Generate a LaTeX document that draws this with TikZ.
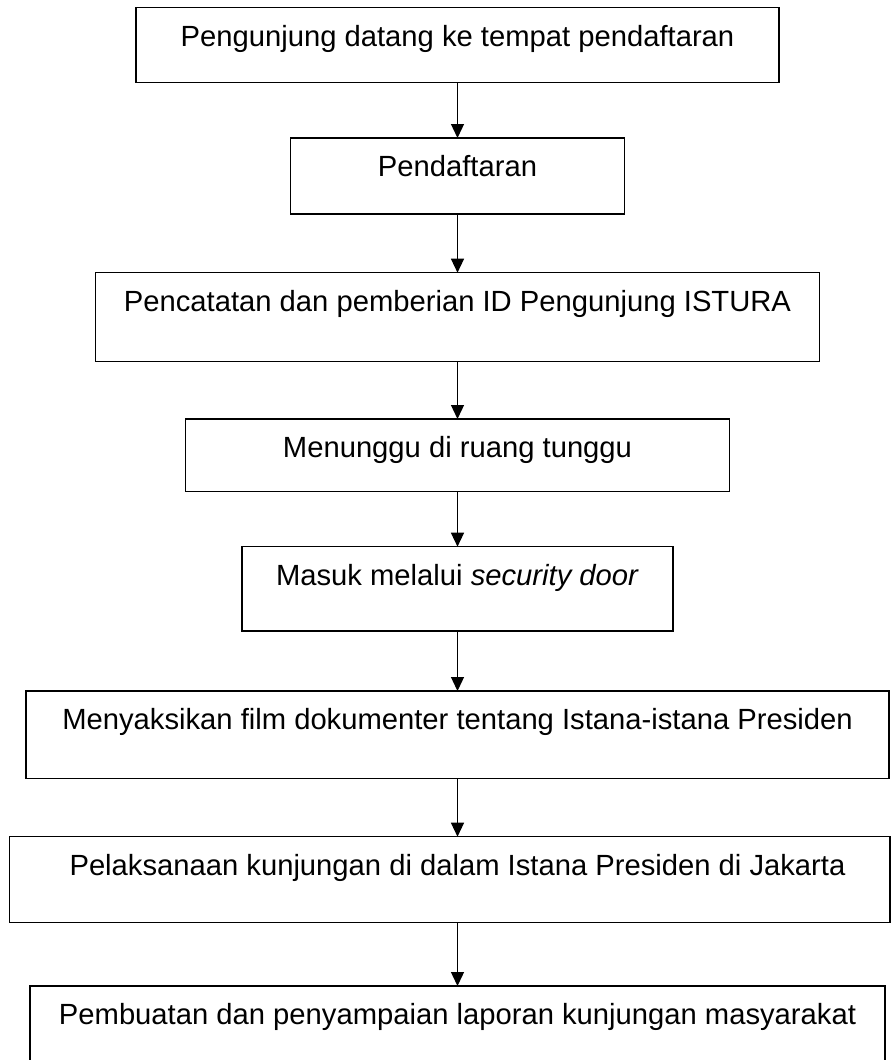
\documentclass[tikz,border=0pt]{standalone}
\usepackage{fontspec}
\setmainfont{Liberation Sans}
\usetikzlibrary{arrows.meta}
\begin{document}
\begin{tikzpicture}[x=1pt,y=1pt,
  flowbox/.style={draw=black, line width=1.5pt, inner sep=0pt, outer sep=0pt,
    anchor=north, text height=38.5pt,
    font=\fontsize{29.2pt}{35pt}\selectfont},
  flowarrow/.style={draw=black, line width=1.3pt,
    -{Triangle[length=14pt,width=13pt]}}]
\useasboundingbox (0,0) rectangle (892,-1060);
\fill[white] (0,0) rectangle (892,-1060);
\node[flowbox, minimum width=643pt, text depth=36.3pt] (b1) at (457.5,-7.5) {Pengunjung datang ke tempat pendaftaran};
\node[flowbox, minimum width=333.6pt, text depth=37.5pt] (b2) at (457.5,-138) {Pendaftaran};
\node[flowbox, minimum width=723.6pt, text depth=50.3pt] (b3) at (457.5,-272.7) {Pencatatan dan pemberian ID Pengunjung ISTURA};
\node[flowbox, minimum width=543.6pt, text depth=34pt] (b4) at (457.5,-419) {Menunggu di ruang tunggu};
\node[flowbox, minimum width=431pt, text depth=45.8pt] (b5) at (457.5,-546.7) {Masuk melalui \textit{security door}};
\node[flowbox, minimum width=863pt, text depth=49.2pt] (b6) at (457.5,-691) {Menyaksikan film dokumenter tentang Istana-istana Presiden};
\node[flowbox, minimum width=880.7pt, text depth=47.5pt] (b7) at (449.65,-836.7) {\hspace*{15.7pt}Pelaksanaan kunjungan di dalam Istana Presiden di Jakarta};
\node[flowbox, minimum width=855pt, text depth=41.5pt] (b8) at (457.5,-986) {Pembuatan dan penyampaian laporan kunjungan masyarakat};
\draw[flowarrow] (b1.south) -- (b2.north);
\draw[flowarrow] (b2.south) -- (b3.north);
\draw[flowarrow] (b3.south) -- (b4.north);
\draw[flowarrow] (b4.south) -- (b5.north);
\draw[flowarrow] (b5.south) -- (b6.north);
\draw[flowarrow] (b6.south) -- (b6.south |- b7.north);
\draw[flowarrow] (b8.north |- b7.south) -- (b8.north);
\end{tikzpicture}
\end{document}
